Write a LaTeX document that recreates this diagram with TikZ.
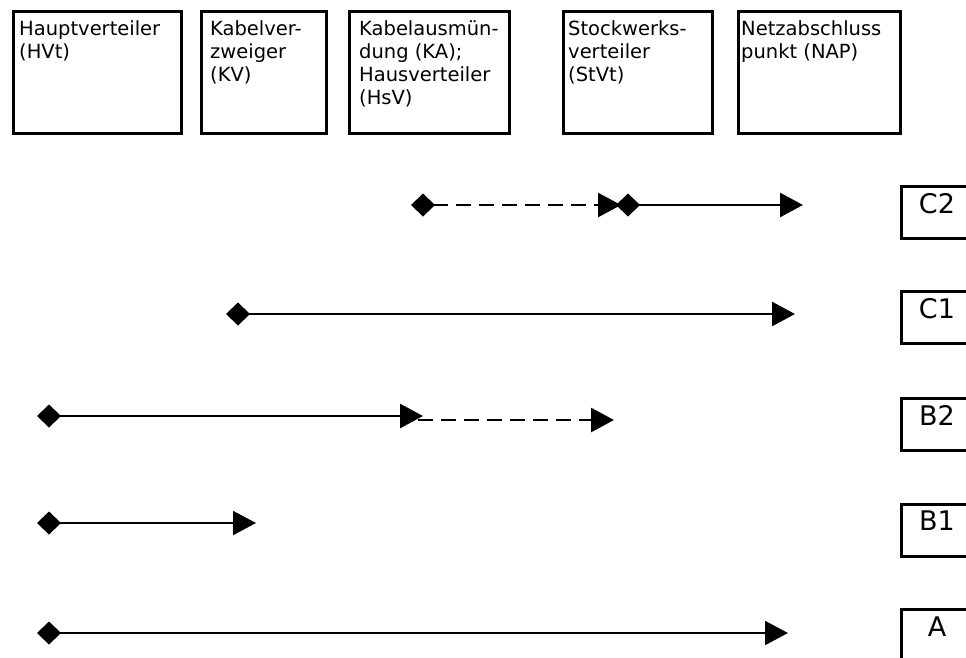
\documentclass[tikz,border=0pt]{standalone}
\usepackage{fontspec}
\setmainfont{DejaVu Sans}
\usetikzlibrary{arrows.meta, positioning}

\tikzset{
    unit/.style={draw, line width=2.6pt, inner sep=0pt, anchor=north west},
    unittext/.style={anchor=north west, align=left, inner sep=0pt,
        font=\fontsize{19.5}{23}\selectfont},
    case/.style={draw, line width=2.6pt, inner sep=0pt, anchor=north west,
        minimum width=76pt, minimum height=52pt},
    casetext/.style={anchor=north, inner sep=0pt, font=\fontsize{27}{31}\selectfont},
    link/.style={line width=2.8pt, {Diamond[length=24pt,width=23pt]}-{Triangle[length=23pt,width=24pt]}},
    thinlink/.style={link, line width=1.8pt},
    dashlink/.style={line width=2.8pt, dash pattern=on 15pt off 8pt}
}

\begin{document}
\begin{tikzpicture}[x=1pt, y=-1pt]
\useasboundingbox (0,0) rectangle (966,657);

% Units
\node[unit, minimum width=168pt, minimum height=122pt] (hvt) at (12,10){};
\node[unit, minimum width=125pt, minimum height=122pt] (kv) at (200,10){};
\node[unit, minimum width=160pt, minimum height=122pt] (ka) at (348,10){};
\node[unit, minimum width=149pt, minimum height=122pt] (stvt) at (562,10){};
\node[unit, minimum width=162pt, minimum height=122pt] (nap) at (737,10){};

\node[unittext] (hvttext) at (19,20){Hauptverteiler\\(HVt)};
\node[unittext] (kvtext) at (210,20){Kabelver-\\zweiger\\(KV)};
\node[unittext] (katext) at (359,20){Kabelausmün-\\dung (KA);\\Hausverteiler\\(HsV)};
\node[unittext] (stvttext) at (568,20){Stockwerks-\\verteiler\\(StVt)};
\node[unittext] (naptext) at (741,20){Netzabschluss\\punkt (NAP)};

% Cases
\node[case] (c2box) at (900,185){};
\node[case] (c1box) at (900,290){};
\node[case] (b2box) at (900,397){};
\node[case] (b1box) at (900,503){};
\node[case] (abox) at (900,608){};

\node[casetext] (c2text) at (937,193){C2};
\node[casetext] (c1text) at (937,298){C1};
\node[casetext] (b2text) at (937,405){B2};
\node[casetext] (b1text) at (937,511){B1};
\node[casetext] (atext) at (937,617){A};

% Links
\coordinate (c2start) at (411,205);
\coordinate (c2mid) at (621,205);
\coordinate (c2next) at (616,205);
\coordinate (c2end) at (803,205);
\coordinate (c1start) at (226,314);
\coordinate (c1end) at (795,314);
\coordinate (b2start) at (37,416);
\coordinate (b2mid) at (423,416);
\coordinate (b2next) at (418,420);
\coordinate (b2end) at (614,420);
\coordinate (b1start) at (37,523);
\coordinate (b1end) at (256,523);
\coordinate (astart) at (37,633);
\coordinate (aend) at (788,633);

\draw[link, dashlink] (c2start) -- (c2mid);
\draw[link] (c2next) -- (c2end);
\draw[link] (c1start) -- (c1end);
\draw[dashlink, -{Triangle[length=23pt,width=24pt]}] (b2next) -- (b2end);
\draw[link] (b2start) -- (b2mid);
\draw[thinlink] (b1start) -- (b1end);
\draw[thinlink] (astart) -- (aend);
\end{tikzpicture}
\end{document}
